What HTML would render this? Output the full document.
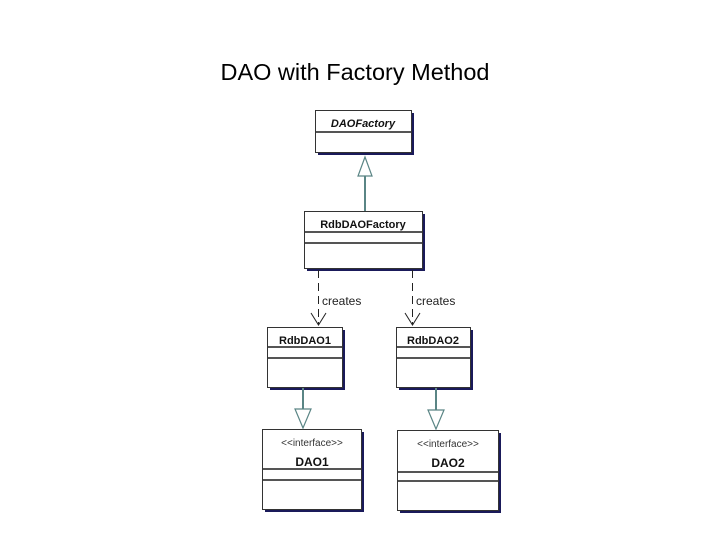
<!DOCTYPE html>
<html><head><style>
html,body{margin:0;padding:0;background:#fff;}
body{width:720px;height:540px;position:relative;overflow:hidden;font-family:"Liberation Sans",sans-serif;}
</style></head><body>
<svg width="720" height="540" xmlns="http://www.w3.org/2000/svg" style="position:absolute;left:0;top:0">
<text x="355" y="80" font-size="23.5" text-anchor="middle" font-family="Liberation Sans, sans-serif">DAO with Factory Method</text>
<g fill="#1a1a5a">
<rect x="318" y="113" width="96" height="42"/>
<rect x="307" y="214" width="118" height="57"/>
<rect x="270" y="330" width="75" height="60"/>
<rect x="399" y="330" width="74" height="60"/>
<rect x="265" y="432" width="99" height="80"/>
<rect x="400" y="433" width="101" height="80"/>
</g>
<g fill="#fff" stroke="#333" stroke-width="1">
<rect x="315.5" y="110.5" width="96" height="42"/>
<rect x="304.5" y="211.5" width="118" height="57"/>
<rect x="267.5" y="327.5" width="75" height="60"/>
<rect x="396.5" y="327.5" width="74" height="60"/>
<rect x="262.5" y="429.5" width="99" height="80"/>
<rect x="397.5" y="430.5" width="101" height="80"/>
</g>
<g stroke="#555" stroke-width="2">
<line x1="316" y1="132" x2="411" y2="132"/>
<line x1="305" y1="232" x2="422" y2="232"/>
<line x1="305" y1="243" x2="422" y2="243"/>
<line x1="268" y1="347" x2="342" y2="347"/>
<line x1="268" y1="358" x2="342" y2="358"/>
<line x1="397" y1="347" x2="470" y2="347"/>
<line x1="397" y1="358" x2="470" y2="358"/>
<line x1="263" y1="469" x2="361" y2="469"/>
<line x1="263" y1="480" x2="361" y2="480"/>
<line x1="398" y1="472" x2="498" y2="472"/>
<line x1="398" y1="481" x2="498" y2="481"/>
</g>
<g font-family="Liberation Sans, sans-serif" font-size="11" font-weight="bold" text-anchor="middle" fill="#111">
<text x="363" y="127" font-style="italic">DAOFactory</text>
<text x="363" y="228">RdbDAOFactory</text>
<text x="305" y="344">RdbDAO1</text>
<text x="433" y="344">RdbDAO2</text>
<text x="312" y="466" font-size="12">DAO1</text>
<text x="448" y="467" font-size="12">DAO2</text>
</g>
<g font-family="Liberation Sans, sans-serif" font-size="10" text-anchor="middle" fill="#333">
<text x="312" y="446">&lt;&lt;interface&gt;&gt;</text>
<text x="448" y="447">&lt;&lt;interface&gt;&gt;</text>
</g>
<g stroke="#5a8585" stroke-width="2" fill="#fff">
<line x1="365" y1="176" x2="365" y2="211"/>
<polygon points="365,157 358,176 372,176" stroke-width="1.2"/>
<line x1="303" y1="388" x2="303" y2="409"/>
<polygon points="303,428 295,409 311,409" stroke-width="1.2"/>
<line x1="436" y1="388" x2="436" y2="410"/>
<polygon points="436,429 428,410 444,410" stroke-width="1.2"/>
</g>
<g stroke="#222" stroke-width="1" fill="none">
<line x1="318.5" y1="270" x2="318.5" y2="325" stroke-dasharray="8,5"/>
<polyline points="311,313 318.5,325 326,313"/>
<line x1="412.5" y1="270" x2="412.5" y2="325" stroke-dasharray="8,5"/>
<polyline points="405,313 412.5,325 420,313"/>
</g>
<g font-family="Liberation Sans, sans-serif" font-size="12" fill="#222">
<text x="322" y="305">creates</text>
<text x="416" y="305">creates</text>
</g>
</svg>
</body></html>
